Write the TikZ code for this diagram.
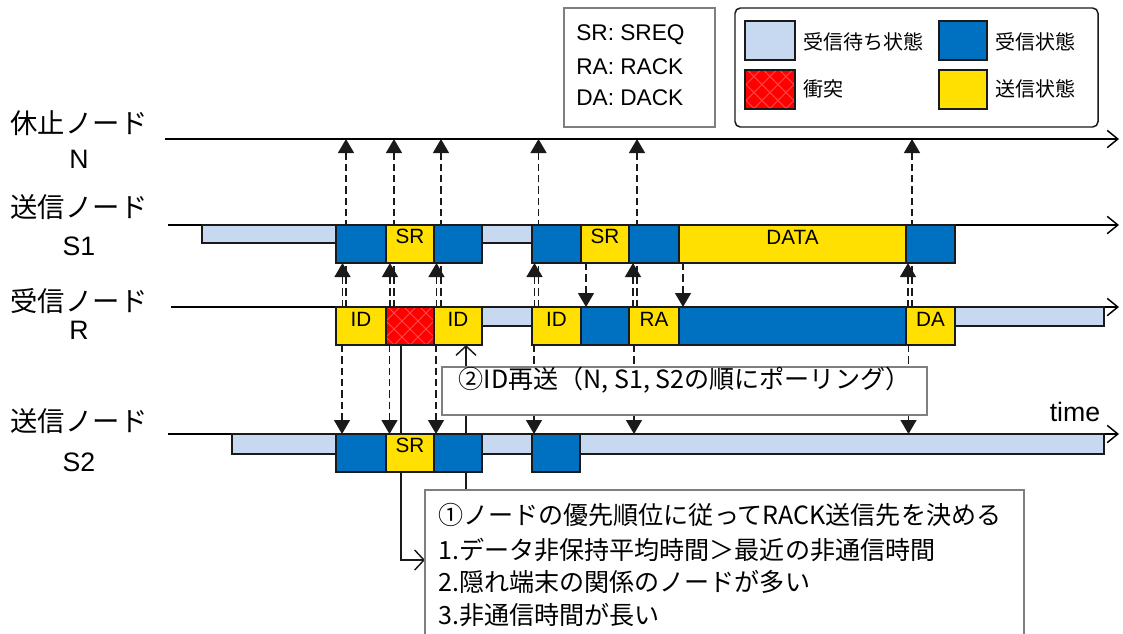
\documentclass[tikz,border=0pt]{standalone}
\usepackage{fontspec}
\setmainfont{Liberation Sans}
\newfontfamily\jp{Noto Sans CJK JP}
\usetikzlibrary{arrows.meta,fit,calc}
\definecolor{lb}{HTML}{C6D9F0}
\definecolor{bl}{HTML}{0070C0}
\definecolor{ye}{HTML}{FFE000}
\definecolor{rd}{HTML}{FF0000}
\definecolor{hatchc}{HTML}{FF4A4A}
\definecolor{dk}{HTML}{1A1A1A}
\definecolor{gr}{HTML}{7F7F7F}
\newcommand\tbox[7]{\node[#2, fit={(#3,#4)(#5,#6)}] (#1) {#7};}
\begin{document}
\begin{tikzpicture}[x=0.75pt,y=-0.75pt,
  stbox/.style={draw=dk, line width=1.1pt, inner sep=0pt, font=\fontsize{15.5}{18}\selectfont},
  lbbox/.style={stbox, fill=lb},
  blbox/.style={stbox, fill=bl},
  yebox/.style={stbox, fill=ye},
  colbox/.style={stbox, fill=rd, path picture={
      \foreach \k in {-7,...,7}{
        \draw[hatchc, line width=0.6pt] ($(path picture bounding box.center)+(\k*16,-45)$) -- ++(90,90);
        \draw[hatchc, line width=0.6pt] ($(path picture bounding box.center)+(\k*16,-45)$) -- ++(-90,90);
      }}},
  axisline/.style={draw=black, line width=1.5pt, -{Straight Barb[length=8pt,width=13pt,line width=1.1pt]}},
  dasharr/.style={draw=dk, line width=1pt, dash pattern=on 5.5pt off 3pt, -{Triangle[length=10.5pt,width=12pt]}},
  openarr/.style={draw=dk, line width=1.1pt, -{Straight Barb[length=7pt,width=15pt,line width=1.1pt]}},
  jplab/.style={font=\jp\fontsize{20.5}{24}\selectfont, inner sep=0pt},
  latlab/.style={font=\fontsize{20}{24}\selectfont, inner sep=0pt},
  notebox/.style={draw=gr, line width=1pt, fill=white, inner sep=0pt},
  notetext/.style={font=\jp\fontsize{18.8}{22}\selectfont, inner sep=0pt, anchor=west},
  legtext/.style={font=\jp\fontsize{15}{18}\selectfont, inner sep=0pt, anchor=west},
  abtext/.style={font=\fontsize{17}{20}\selectfont, inner sep=0pt, anchor=west}
]
\useasboundingbox (0,0) rectangle (1123,633);
\fill[white] (0,0) rectangle (1123,633);

% ---------- dashed signal arrows ----------
\foreach \x [count=\i] in {346,394,441,538.5,637,912}{
  \coordinate (upa\i) at (\x,307); \coordinate (upb\i) at (\x,139);
  \draw[dasharr] (upa\i) -- (upb\i);}
\foreach \x [count=\i] in {342.5,390,436.5,534.5,633,908}{
  \coordinate (sa\i) at (\x,307); \coordinate (sb\i) at (\x,263);
  \draw[dasharr] (sa\i) -- (sb\i);}
\foreach \x [count=\i] in {342,389.5,436,534,634,908.5}{
  \coordinate (da\i) at (\x,345); \coordinate (db\i) at (\x,434);
  \draw[dasharr] (da\i) -- (db\i);}
\foreach \x [count=\i] in {586,683}{
  \coordinate (ra\i) at (\x,263); \coordinate (rb\i) at (\x,307);
  \draw[dasharr] (ra\i) -- (rb\i);}

% ---------- callout lines ----------
\coordinate (c1a) at (401,345); \coordinate (c1b) at (425,560);
\draw[openarr] (c1a) |- (c1b);
\coordinate (c2a) at (466,490); \coordinate (c2b) at (466,345);
\draw[openarr] (c2a) -- (c2b);

% ---------- time axes ----------
\coordinate (tN0) at (165,139); \coordinate (tN1) at (1119,139);
\coordinate (tS0) at (168,225); \coordinate (tS1) at (1119,225);
\coordinate (tR0) at (171,307); \coordinate (tR1) at (1119,307);
\coordinate (tT0) at (168,434); \coordinate (tT1) at (1119,434);
\draw[axisline] (tN0) -- (tN1);
\draw[axisline] (tS0) -- (tS1);
\draw[axisline] (tR0) -- (tR1);
\draw[axisline] (tT0) -- (tT1);

% ---------- S1 ----------
\tbox{s1w1}{lbbox}{202}{225}{336}{243}{}
\tbox{s1a}{blbox}{336}{225}{386}{263}{}
\tbox{s1sr}{yebox}{386}{225}{434}{263}{SR}
\tbox{s1b}{blbox}{434}{225}{482}{263}{}
\tbox{s1w2}{lbbox}{482}{225}{532}{243}{}
\tbox{s1c}{blbox}{532}{225}{581}{263}{}
\tbox{s1sr2}{yebox}{581}{225}{629}{263}{SR}
\tbox{s1d}{blbox}{629}{225}{679}{263}{}
\tbox{s1data}{yebox}{679}{225}{906}{263}{DATA}
\tbox{s1e}{blbox}{906}{225}{955}{263}{}

% ---------- R ----------
\tbox{rid1}{yebox}{336}{307}{386}{345}{ID}
\tbox{rcol}{colbox}{386}{307}{434}{345}{}
\tbox{rid2}{yebox}{434}{307}{482}{345}{ID}
\tbox{rw1}{lbbox}{482}{307}{532}{326}{}
\tbox{rid3}{yebox}{532}{307}{581}{345}{ID}
\tbox{rb1}{blbox}{581}{307}{629}{345}{}
\tbox{rra}{yebox}{629}{307}{679}{345}{RA}
\tbox{rb2}{blbox}{679}{307}{906}{345}{}
\tbox{rda}{yebox}{906}{307}{955}{345}{DA}
\tbox{rw2}{lbbox}{955}{307}{1104}{326}{}

% ---------- S2 ----------
\tbox{s2w1}{lbbox}{232}{434}{336}{454}{}
\tbox{s2a}{blbox}{336}{434}{386}{472}{}
\tbox{s2sr}{yebox}{386}{434}{434}{472}{SR}
\tbox{s2b}{blbox}{434}{434}{482}{472}{}
\tbox{s2w2}{lbbox}{482}{434}{532}{454}{}
\tbox{s2c}{blbox}{532}{434}{580}{472}{}
\tbox{s2w3}{lbbox}{580}{434}{1104}{454}{}

% ---------- row labels ----------
\node[jplab] (lN1) at (79,123.5) {休止ノード};
\node[latlab] (lN2) at (79,159) {N};
\node[jplab] (lS1a) at (79,207) {送信ノード};
\node[latlab] (lS1b) at (79,246) {S1};
\node[jplab] (lRa) at (79,301) {受信ノード};
\node[latlab] (lRb) at (79,330) {R};
\node[jplab] (lS2a) at (79,421) {送信ノード};
\node[latlab] (lS2b) at (79,462) {S2};
\node[latlab, anchor=base] (ltime) at (1075,421.5) {time};

% ---------- note 2 ----------
\node[notebox, fit={(442,367)(927,415)}, font=\jp\fontsize{18.8}{22}\selectfont] (note2) {②ID再送（N, S1, S2の順にポーリング）};

% ---------- note 1 ----------
\node[notebox, fit={(425,490)(1024,660)}] (note1) {};
\node[notetext] (n1a) at (438,515) {①ノードの優先順位に従ってRACK送信先を決める};
\node[notetext] (n1b) at (438,550) {1.データ非保持平均時間＞最近の非通信時間};
\node[notetext] (n1c) at (438,582) {2.隠れ端末の関係のノードが多い};
\node[notetext] (n1d) at (438,615) {3.非通信時間が長い};

% ---------- abbreviation box ----------
\node[draw=gr, line width=1pt, inner sep=0pt, fit={(564,8)(715,127)}] (abbr) {};
\node[abtext] (ab1) at (576,35) {SR: SREQ};
\node[abtext] (ab2) at (576,67) {RA: RACK};
\node[abtext] (ab3) at (576,98) {DA: DACK};

% ---------- legend ----------
\node[draw=dk, line width=1.1pt, rounded corners=4pt, inner sep=0pt, fit={(735,8)(1098,127)}] (leg) {};
\tbox{lg1}{lbbox}{745}{21}{795}{60}{}
\tbox{lg2}{blbox}{939}{21}{987}{60}{}
\tbox{lg3}{colbox}{745}{70}{795}{109}{}
\tbox{lg4}{yebox}{939}{70}{987}{109}{}
\node[legtext] (lt1) at (803,42) {受信待ち状態};
\node[legtext] (lt2) at (995,42) {受信状態};
\node[legtext] (lt3) at (803,89) {衝突};
\node[legtext] (lt4) at (995,89) {送信状態};
\end{tikzpicture}
\end{document}
